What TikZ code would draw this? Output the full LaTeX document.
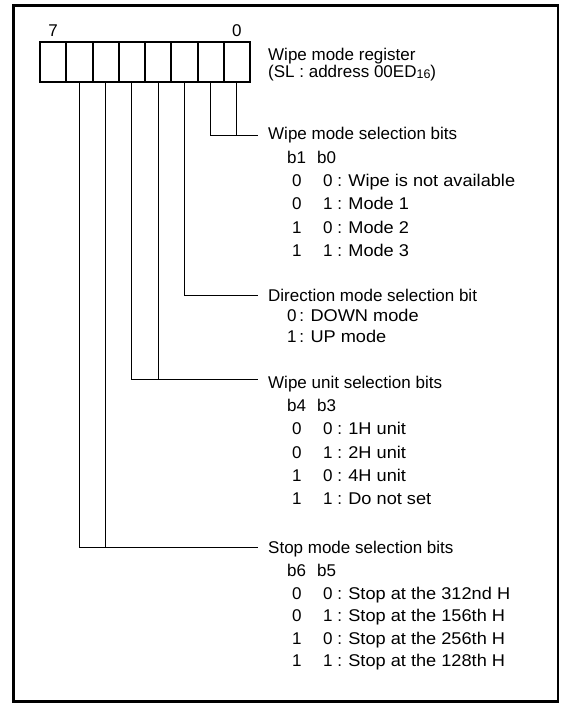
\documentclass[tikz,border=0pt]{standalone}
\usepackage{fontspec}
\setmainfont{Liberation Sans}
\newfontfamily\rowfont{Liberation Sans}[FakeStretch=1.07]
\newcommand\bitrow[3]{#1\hspace{21.5pt}#2 : {\rowfont #3}}
\newcommand\bithead[2]{#1\hspace{11pt}#2}
\begin{document}
\begin{tikzpicture}[x=1pt,y=-1pt,
  font=\fontsize{17}{20}\selectfont,
  txt/.style={anchor=base west,inner sep=0pt},
  num/.style={anchor=base,inner sep=0pt},
  cell/.style={draw,line width=2pt,minimum width=26.25pt,minimum height=40pt,inner sep=0pt,outer sep=0pt},
  wire/.style={line width=1pt},
  frame/.style={line width=2.5pt}]
\useasboundingbox (0,0) rectangle (563,705);
\draw[frame] (13.5,5.5) rectangle (558,701.5);
\foreach \i in {0,...,7} \node[cell] (c\i) at ({236.875-26.25*\i},62) {};
\node[num] (n7) at (53.1,36) {7};
\node[num] (n0) at (236.9,36) {0};
% register title
\node[txt] (reg1) at (268,60) {Wipe mode register};
\node[txt] (reg2) at (268,77) {(SL : address 00ED\raisebox{-1.5pt}{\fontsize{12.5}{12.5}\selectfont 16})};
% block 1
\node[txt] (h1) at (268,139) {Wipe mode selection bits};
\node[txt] (bh1) at (287,163) {\bithead{b1}{b0}};
\node[txt] (r11) at (292,186) {\bitrow{0}{0}{Wipe is not available}};
\node[txt] (r12) at (292,209) {\bitrow{0}{1}{Mode 1}};
\node[txt] (r13) at (292,233) {\bitrow{1}{0}{Mode 2}};
\node[txt] (r14) at (292,256) {\bitrow{1}{1}{Mode 3}};
% block 2
\node[txt] (h2) at (268,301) {Direction mode selection bit};
\node[txt] (r21) at (287,321) {0\,: {\rowfont DOWN mode}};
\node[txt] (r22) at (287,342) {1\,: {\rowfont UP mode}};
% block 3
\node[txt] (h3) at (268,388) {Wipe unit selection bits};
\node[txt] (bh3) at (287,411) {\bithead{b4}{b3}};
\node[txt] (r31) at (292,434) {\bitrow{0}{0}{1H unit}};
\node[txt] (r32) at (292,458) {\bitrow{0}{1}{2H unit}};
\node[txt] (r33) at (292,481) {\bitrow{1}{0}{4H unit}};
\node[txt] (r34) at (292,504) {\bitrow{1}{1}{Do not set}};
% block 4
\node[txt] (h4) at (268,553) {Stop mode selection bits};
\node[txt] (bh4) at (287,576) {\bithead{b6}{b5}};
\node[txt] (r41) at (292,599) {\bitrow{0}{0}{Stop at the 312nd H}};
\node[txt] (r42) at (292,621.5) {\bitrow{0}{1}{Stop at the 156th H}};
\node[txt] (r43) at (292,644) {\bitrow{1}{0}{Stop at the 256th H}};
\node[txt] (r44) at (292,666.5) {\bitrow{1}{1}{Stop at the 128th H}};
% connectors
\coordinate (e1) at (258,135);
\coordinate (e2) at (258,295);
\coordinate (e3) at (258,379);
\coordinate (e4) at (258,547);
\draw[wire] (c1.south) |- (e1);
\draw[wire] (c0.south) -- (c0.south |- e1);
\draw[wire] (c2.south) |- (e2);
\draw[wire] (c4.south) |- (e3);
\draw[wire] (c3.south) -- (c3.south |- e3);
\draw[wire] (c6.south) |- (e4);
\draw[wire] (c5.south) -- (c5.south |- e4);
\end{tikzpicture}
\end{document}
